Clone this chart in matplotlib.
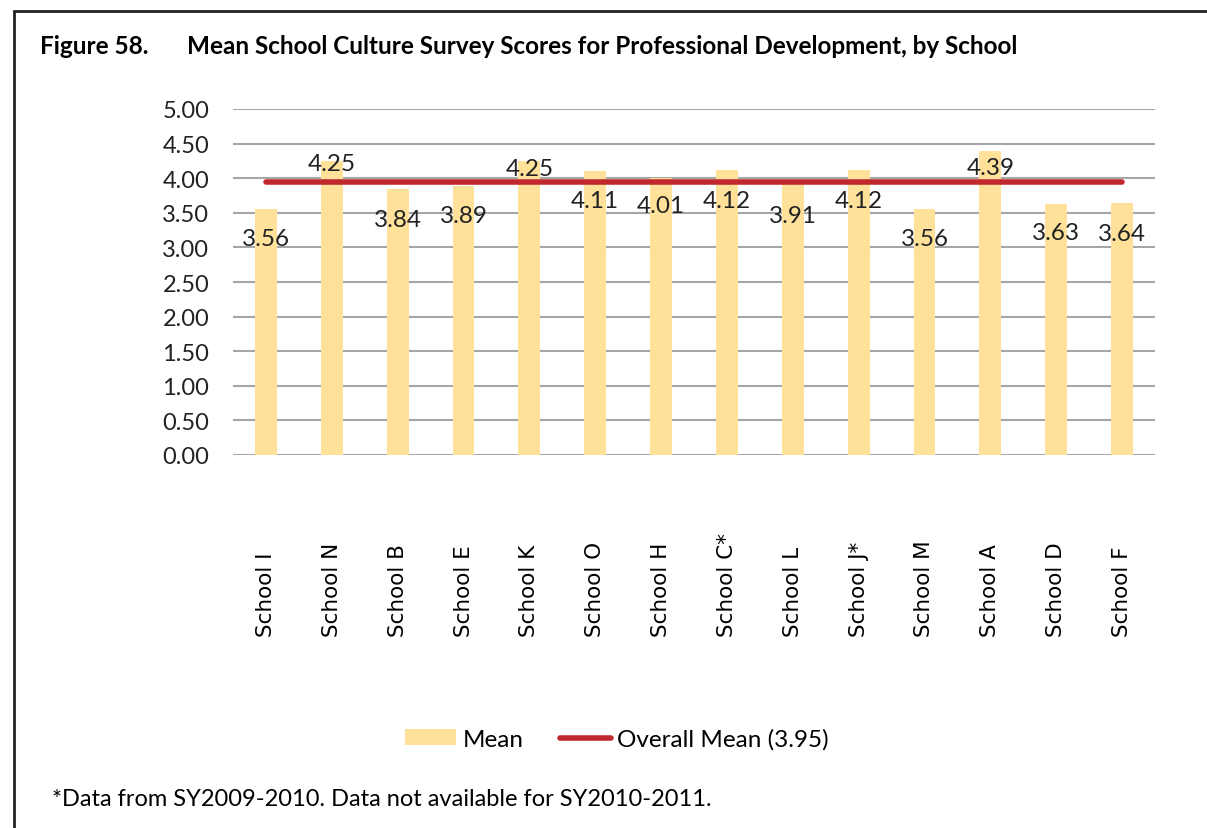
import matplotlib.pyplot as plt
from matplotlib.patches import Rectangle

# data
schools = ["School I", "School N", "School B", "School E", "School K", "School O", "School H",
           "School C*", "School L", "School J*", "School M", "School A", "School D", "School F"]
means = [3.56, 4.25, 3.84, 3.89, 4.25, 4.11, 4.01, 4.12, 3.91, 4.12, 3.56, 4.39, 3.63, 3.64]
overall_mean = 3.95
# label offset below bar top (pixels), labels above the mean line were nudged up
label_offsets = [-30, -3, -30, -30, -8, -30, -28, -31, -31, -31, -30, -16, -29, -30]

bar_color = "#FFE19A"
line_color = "#C0282D"
plt.rcParams["font.family"] = ["Lato", "DejaVu Sans"]

fig = plt.figure(figsize=(12.07, 8.29), dpi=100)
ax = fig.add_axes([233 / 1207, 1 - 456 / 829, (1155 - 233) / 1207, (456 - 110) / 829])

x = range(len(schools))
bars = ax.bar(x, means, width=0.33, color=bar_color, zorder=2, label="Mean")
line, = ax.plot([0, len(schools) - 1], [overall_mean, overall_mean], color=line_color, lw=4,
                solid_capstyle="round", zorder=3, label="Overall Mean (3.95)")

for i, v in enumerate(means):
    ax.annotate(f"{v:.2f}", (i, v), xytext=(0, label_offsets[i]), textcoords="offset pixels",
                ha="center", va="center", fontsize=17.5, color="#222222", zorder=4)

ax.set_xlim(-0.5, len(schools) - 0.5)
ax.set_ylim(0, 5)
ax.set_yticks([i * 0.5 for i in range(11)])
ax.set_yticklabels([f"{i * 0.5:.2f}" for i in range(11)], fontsize=17, color="#222222")
ax.grid(axis="y", color="#A6A6A6", lw=1.5, zorder=0)
for s in ax.spines.values():
    s.set_visible(False)
ax.tick_params(axis="y", length=0, pad=17)

ax.set_xticks(list(x))
ax.set_xticklabels(schools, rotation=90, fontsize=15.5, family="DejaVu Sans", va="bottom")
ax.tick_params(axis="x", length=0, pad=130)

# title and footnote
fig.text(40 / 1207, 1 - 47 / 829, "Figure 58.", fontsize=17.5, fontweight="bold", va="center")
fig.text(187 / 1207, 1 - 47 / 829, "Mean School Culture Survey Scores for Professional Development, by School",
         fontsize=17.5, fontweight="bold", va="center")
fig.text(52 / 1207, 1 - 800 / 829, "*Data from SY2009-2010. Data not available for SY2010-2011.",
         fontsize=17, va="center")

fig.legend([bars, line], ["Mean", "Overall Mean (3.95)"], loc="center",
           bbox_to_anchor=(617 / 1207, 1 - 740 / 829), ncol=2, frameon=False,
           fontsize=17.5, handlelength=2.1, handleheight=0.6, handletextpad=0.25, columnspacing=1.5)

# outer frame
fig.patches.append(Rectangle((14 / 1207, -0.05), 1.1, 1 - 12 / 829 + 0.05, transform=fig.transFigure,
                             fill=False, edgecolor="#222222", lw=2))

fig.savefig("out.png", dpi=100)
